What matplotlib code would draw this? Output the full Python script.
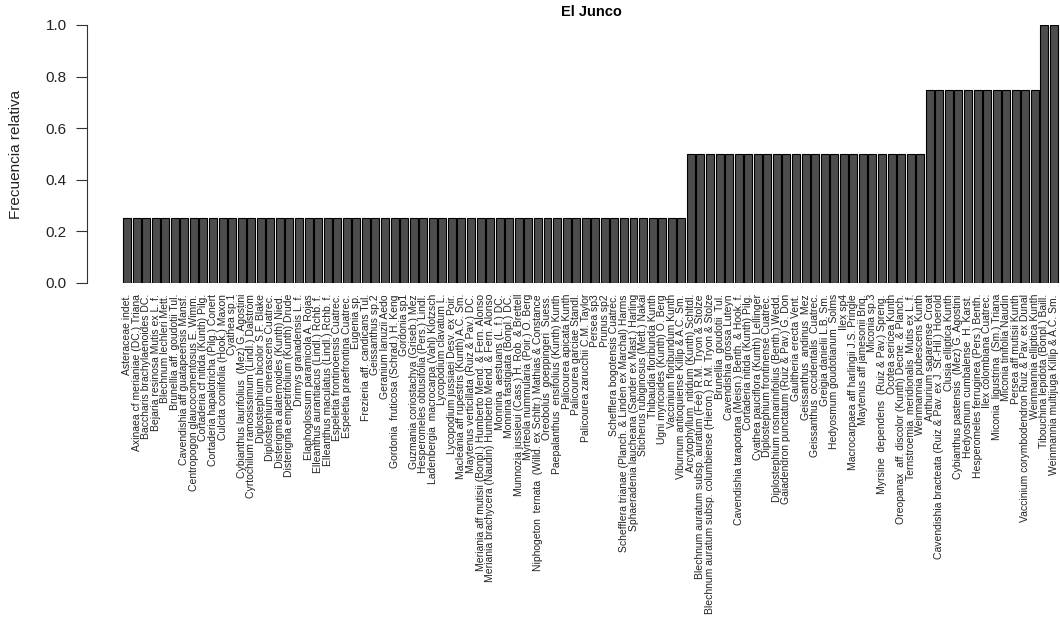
import matplotlib
matplotlib.use("Agg")
import matplotlib.pyplot as plt
import numpy as np

plt.rcParams['font.family'] = ['Liberation Sans', 'DejaVu Sans']

titulo = "El Junco"
etiqueta_y = "Frecuencia relativa"

especies = [
    "Asteraceae indet.",
    "Axinaea cf merianiae (DC.) Triana",
    "Baccharis brachylaenoides DC.",
    "Bejaria resinosa Mutis ex L. f.",
    "Blechnum lechleri Mett.",
    "Brunellia aff. goudotii Tul.",
    "Cavendishia aff guatapeensis Mansf.",
    "Centropogon glaucocomentosus E. Wimm.",
    "Cortaderia cf nitida (Kunth) Pilg.",
    "Cortaderia hapalotricha (Pilg.) Conert",
    "Culcita coniifolia (Hook.) Maxon",
    "Cyathea sp.1",
    "Cybianthus laurifolius  (Mez) G. Agostini",
    "Cyrtochilum ramosissimum (Lindl.) Dalström",
    "Diplostephium bicolor S.F. Blake",
    "Diplostephium cinerascens Cuatrec.",
    "Disterigma alaternoides (Kunth) Nied.",
    "Disterigma empetrifolium (Kunth) Drude",
    "Drimys granadensis L. f.",
    "Elaphoglossum paramicola A. Rojas",
    "Elleanthus aurantiacus (Lindl.) Rchb. f.",
    "Elleanthus maculatus (Lindl.) Rchb. f.",
    "Espeletia frontinoensis Cuatrec.",
    "Espeletia praefrontina Cuatrec.",
    "Eugenia sp.",
    "Frezieria aff. candicans Tul.",
    "Geissanthus sp.2",
    "Geranium lanuzii Aedo",
    "Gordonia  fruticosa (Schrad.) H. Keng",
    "Gordonia sp1",
    "Guzmania coriostachya (Griseb.) Mez",
    "Hesperomeles obtusifolia (Pers.) Lindl.",
    "Ladenbergia  macrocarpa (Vahl) Klotzsch",
    "Lycopodium clavatum L.",
    "Lycopodium jussiaei Desv. ex Poir.",
    "Macleania aff rupestris (Kunth) A.C. Sm.",
    "Maytenus verticillata (Ruiz & Pav.) DC.",
    "Meriania aff mutisii (Bonpl.) Humberto Mend. & Fern. Alonso",
    "Meriania brachycera (Naudin) Humberto Mend. & Fern. Alonso",
    "Monnina  aestuans (L. f.) DC.",
    "Monnina fastigiata (Bonpl.) DC.",
    "Munnozia jussieui (Cass.) H. Rob. & Brettell",
    "Myrteola nummularia (Poir.) O. Berg",
    "Niphogeton  ternata  (Willd. ex Schltr.) Mathias & Constance",
    "Oreobolus  goeppingeri  Suess.",
    "Paepalanthus  ensifolius (Kunth) Kunth",
    "Palicourea apicata Kunth",
    "Palicourea garciae Standl.",
    "Palicourea zarucchii C.M. Taylor",
    "Persea sp3",
    "Prunus sp2",
    "Schefflera bogotensis Cuatrec.",
    "Schefflera trianae (Planch. & Linden ex Marchal) Harms",
    "Sphaeradenia laucheana (Sander ex Mast.) Harling",
    "Sticherus rubiginosus (Mett.) Nakai",
    "Thibaudia floribunda Kunth",
    "Ugni myricoides (Kunth) O. Berg",
    "Vaccinium floribundum Kunth",
    "Viburnum antioquiense Killip & A.C. Sm.",
    "Arcytophyllum  nitidum (Kunth) Schltdl.",
    "Blechnum auratum subsp. auratum (Fée) R.M. Tryon & Stolze",
    "Blechnum auratum subsp. columbiense (Hieron.) R.M. Tryon & Stolze",
    "Brunellia  goudotii  Tul.",
    "Cavendishia grossa Luteyn",
    "Cavendishia tarapotana (Meisn.) Benth. & Hook. f.",
    "Cortaderia nitida (Kunth) Pilg.",
    "Cyathea pauciflora (Kunth) Lellinger",
    "Diplostephium frontinense Cuatrec.",
    "Diplostephium rosmarinifolius (Benth.) Wedd.",
    "Gaiadendron punctatum (Ruiz & Pav.) G. Don",
    "Gaultheria erecta Vent.",
    "Geissanthus  andinus  Mez",
    "Geissanthus  occidentalis  Cuatrec.",
    "Greigia danielii L.B. Sm.",
    "Hedyosmum goudotianum  Solms",
    "Ilex sp4",
    "Macrocarpaea aff harlingii J.S. Pringle",
    "Maytenus aff jamesonii Briq.",
    "Miconia sp.3",
    "Myrsine  dependens  (Ruiz & Pav.) Spreng.",
    "Ocotea sericea Kunth",
    "Oreopanax  aff. discolor (Kunth) Decne. & Planch.",
    "Ternstroemia  meridionalis  Mutis ex L. f.",
    "Weinmannia pubescens Kunth",
    "Anthurium sagarense Croat",
    "Cavendishia bracteata (Ruiz & Pav. ex J. St.-Hil.) Hoerold",
    "Clusia elliptica Kunth",
    "Cybianthus pastensis  (Mez) G. Agostini",
    "Hedyosmum cumbalense  H. Karst.",
    "Hesperomeles ferruginea (Pers.) Benth.",
    "Ilex colombiana Cuatrec.",
    "Miconia  ligustrina  (Sm.) Triana",
    "Miconia tinifolia Naudin",
    "Persea aff mutisii Kunth",
    "Vaccinium corymbodendron Ruiz & Pav. ex Dunal",
    "Weinmannia elliptica Kunth",
    "Tibouchina lepidota (Bonpl.) Baill.",
    "Weinmannia multijuga Killip & A.C. Sm.",
]

frecuencia = [
    0.25, 0.25, 0.25, 0.25, 0.25, 0.25, 0.25, 0.25, 0.25, 0.25,
    0.25, 0.25, 0.25, 0.25, 0.25, 0.25, 0.25, 0.25, 0.25, 0.25,
    0.25, 0.25, 0.25, 0.25, 0.25, 0.25, 0.25, 0.25, 0.25, 0.25,
    0.25, 0.25, 0.25, 0.25, 0.25, 0.25, 0.25, 0.25, 0.25, 0.25,
    0.25, 0.25, 0.25, 0.25, 0.25, 0.25, 0.25, 0.25, 0.25, 0.25,
    0.25, 0.25, 0.25, 0.25, 0.25, 0.25, 0.25, 0.25, 0.25,
    0.50, 0.50, 0.50, 0.50, 0.50, 0.50, 0.50, 0.50, 0.50, 0.50,
    0.50, 0.50, 0.50, 0.50, 0.50, 0.50, 0.50, 0.50, 0.50, 0.50,
    0.50, 0.50, 0.50, 0.50, 0.50,
    0.75, 0.75, 0.75, 0.75, 0.75, 0.75, 0.75, 0.75, 0.75, 0.75,
    0.75, 0.75,
    1.00, 1.00,
]

W, H = 1060, 623
fig = plt.figure(figsize=(W / 100, H / 100), dpi=100)

# axes placed in pixels: y axis at x=87, y=0 at 283px, y=1 at 25px
ax = fig.add_axes([87 / W, (H - 283) / H, (W - 87) / W, 258 / H])

# R-style barplot positions (width 1, space 0.2)
n = len(especies)
centros = 0.7 + 1.2 * np.arange(n)
ax.bar(centros, frecuencia, width=1.0, color="#4d4d4d", edgecolor="black", linewidth=0.8)

ax.set_xlim(-4.32, 117.85)
ax.set_ylim(0, 1.0)

for s in ["top", "right", "bottom"]:
    ax.spines[s].set_visible(False)
ax.spines["left"].set_bounds(0, 1.0)
ax.spines["left"].set_linewidth(0.8)
ax.spines["left"].set_color("#333333")

ax.set_yticks([0.0, 0.2, 0.4, 0.6, 0.8, 1.0])
ax.set_yticklabels(["0.0", "0.2", "0.4", "0.6", "0.8", "1.0"], fontsize=11, color="#222222")
ax.tick_params(axis="y", length=8, width=0.8, pad=6.5, color="#333333")

ax.set_xticks(centros)
ax.set_xticklabels(especies, rotation=90, fontsize=7.5, va="top", ha="center", color="#222222")
ax.tick_params(axis="x", length=0, pad=8)

ax.set_ylabel(etiqueta_y, fontsize=11, color="#222222", va="center")
ax.yaxis.set_label_coords((16 - 87) / (W - 87), 0.5)
fig.text(591 / W, 1 - 12 / H, titulo, fontsize=10.5, fontweight="bold", ha="center", va="center")

fig.savefig("out.png", dpi=100)
